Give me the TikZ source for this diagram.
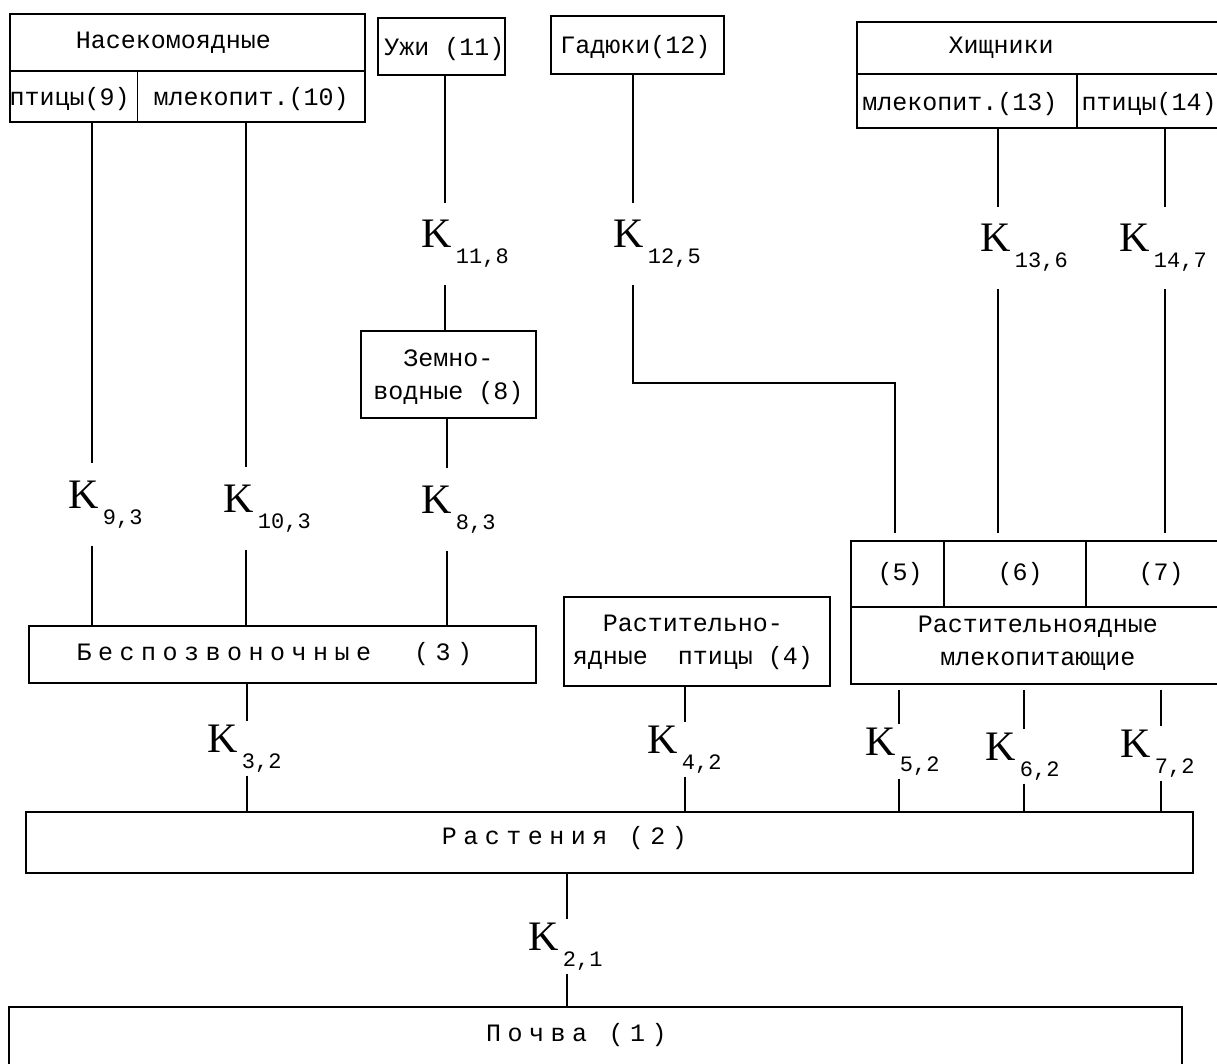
\documentclass[tikz,border=0pt]{standalone}
\usepackage{fontspec}
\newfontfamily\boxfont{Liberation Mono}
\newfontfamily\widefont[LetterSpace=26]{Liberation Mono}
\newfontfamily\kfont{Liberation Serif}
\newcommand\kk[1]{{\kfont\fontsize{42}{42}\selectfont K}\kern4pt\raisebox{-16pt}{\boxfont\fontsize{22}{22}\selectfont #1}}
\begin{document}
\begin{tikzpicture}[x=1pt,y=-1pt]
	\path[use as bounding box,fill=white] (0,0) rectangle (1217,1064);
	\begin{scope}[every node/.style={font=\boxfont\fontsize{25}{33}\selectfont,inner sep=0pt,align=center},line width=1.2pt]
		\tikzstyle{cell}=[draw,line width=1.5pt];
		\tikzstyle{wide}=[font=\widefont\fontsize{25}{33}\selectfont];
		\tikzstyle{khigh}=[anchor=base west,inner ysep=17pt];
		\tikzstyle{klow}=[anchor=base west,inner ysep=3pt];
		\tikzstyle{gap}=[shorten >=7pt];
		% top row
		\path (187.5,42.5) node[cell,minimum width=355,minimum height=57] (ins)   {} node[xshift=-14] {Насекомоядные};
		\path (73.75,96.5) node[cell,minimum width=127.5,minimum height=51] (ins9) {} node[xshift=-4,yshift=-3] {птицы(9)};
		\path (251.25,96.5) node[cell,minimum width=227.5,minimum height=51] (ins10) {} node[yshift=-3] {млекопит.(10)};
		\path (441.5,46.5) node[cell,minimum width=127,minimum height=57] (uzhi) {} node[xshift=3,yshift=-3] {Ужи (11)};
		\path (637.5,45)   node[cell,minimum width=173,minimum height=58] (gad)  {} node[xshift=-2,yshift=-2] {Гадюки(12)};
		\path (1041,48)    node[cell,minimum width=368,minimum height=52] (hunt) {} node[xshift=-40] {Хищники};
		\path (967,101)    node[cell,minimum width=220,minimum height=54] (hunt13) {} node[xshift=-7,yshift=-3] {млекопит.(13)};
		\path (1151,101)   node[cell,minimum width=148,minimum height=54] (hunt14) {} node[xshift=-2,yshift=-3] {птицы(14)};
		% middle
		\path (448.5,374.5) node[cell,minimum width=175,minimum height=87] (amph) {} node[yshift=-3] {Земно-\\водные (8)};
		\path (282.5,654.5) node[cell,minimum width=507,minimum height=57] (inv)  {} node[wide,xshift=-8] {Беспозвоночные~~(3)};
		\path (697,641.5)   node[cell,minimum width=266,minimum height=89] (hbird) {} node[xshift=-4,yshift=-1] {Растительно-\\ядные~~птицы (4)};
		\path (897.5,574)   node[cell,minimum width=93,minimum height=66]  (hmam5) {} node[xshift=2.5] {(5)};
		\path (1015,574)    node[cell,minimum width=142,minimum height=66] (hmam6) {} node[xshift=5] {(6)};
		\path (1155.5,574)  node[cell,minimum width=139,minimum height=66] (hmam7) {} node[xshift=5.5] {(7)};
		\path (1038,645.5)  node[cell,minimum width=374,minimum height=77] (hmam) {} node[yshift=2] {Растительноядные\\млекопитающие};
		% bottom
		\path (609.5,842.5) node[cell,minimum width=1167,minimum height=61] (plant) {} node[wide,xshift=-45,yshift=4] {Растения (2)};
		\path (595.5,1041)  node[cell,minimum width=1173,minimum height=68] (soil)  {} node[wide,xshift=-19,yshift=6] {Почва (1)};
		% coefficients
		\path (421,248)  node[khigh] (k118) {\kk{11,8}};
		\path (613,248)  node[khigh] (k125) {\kk{12,5}};
		\path (980,252)  node[khigh] (k136) {\kk{13,6}};
		\path (1119,252) node[khigh] (k147) {\kk{14,7}};
		\path (68,508)   node[khigh] (k93)  {\kk{9,3}};
		\path (223,512)  node[khigh] (k103) {\kk{10,3}};
		\path (421,513)  node[khigh] (k83)  {\kk{8,3}};
		\path (207,752)  node[klow]  (k32)  {\kk{3,2}};
		\path (647,753)  node[klow]  (k42)  {\kk{4,2}};
		\path (865,755)  node[klow]  (k52)  {\kk{5,2}};
		\path (985,760)  node[klow]  (k62)  {\kk{6,2}};
		\path (1120,757) node[klow]  (k72)  {\kk{7,2}};
		\path (528,950)  node[klow]  (k21)  {\kk{2,1}};
		% line positions
		\coordinate (x9)  at (92,0);
		\coordinate (x10) at (246,0);
		\coordinate (x11) at (445,0);
		\coordinate (x8)  at (447,0);
		\coordinate (x12) at (633,0);
		\coordinate (x13) at (998,0);
		\coordinate (x14) at (1165,0);
		\coordinate (x3)  at (247,0);
		\coordinate (x4)  at (685,0);
		\coordinate (x5)  at (899,0);
		\coordinate (x6)  at (1024,0);
		\coordinate (x7)  at (1161,0);
		\coordinate (x2)  at (567,0);
		\coordinate (bend) at (895,383);
		% links
		\draw (ins9.south -| x9)   -- (k93.north -| x9);
		\draw (k93.south -| x9)    -- (inv.north -| x9);
		\draw (ins10.south -| x10) -- (k103.north -| x10);
		\draw (k103.south -| x10)  -- (inv.north -| x10);
		\draw (uzhi.south -| x11)  -- (k118.north -| x11);
		\draw (k118.south -| x11)  -- (amph.north -| x11);
		\draw (amph.south -| x8)   -- (k83.north -| x8);
		\draw (k83.south -| x8)    -- (inv.north -| x8);
		\draw (gad.south -| x12)   -- (k125.north -| x12);
		\draw[gap] (k125.south -| x12) |- (bend) -- (hmam5.north -| bend);
		\draw (hunt13.south -| x13) -- (k136.north -| x13);
		\draw[gap] (k136.south -| x13) -- (hmam6.north -| x13);
		\draw (hunt14.south -| x14) -- (k147.north -| x14);
		\draw[gap] (k147.south -| x14) -- (hmam7.north -| x14);
		\draw (inv.south -| x3)    -- (k32.north -| x3);
		\draw (k32.south -| x3)    -- (plant.north -| x3);
		\draw (hbird.south -| x4)  -- (k42.north -| x4);
		\draw (k42.south -| x4)    -- (plant.north -| x4);
		\draw[shorten <=5pt] (hmam.south -| x5) -- (k52.north -| x5);
		\draw (k52.south -| x5)    -- (plant.north -| x5);
		\draw[shorten <=5pt] (hmam.south -| x6) -- (k62.north -| x6);
		\draw (k62.south -| x6)    -- (plant.north -| x6);
		\draw[shorten <=5pt] (hmam.south -| x7) -- (k72.north -| x7);
		\draw (k72.south -| x7)    -- (plant.north -| x7);
		\draw (plant.south -| x2)  -- (k21.north -| x2);
		\draw (k21.south -| x2)    -- (soil.north -| x2);
	\end{scope}
\end{tikzpicture}
\end{document}
